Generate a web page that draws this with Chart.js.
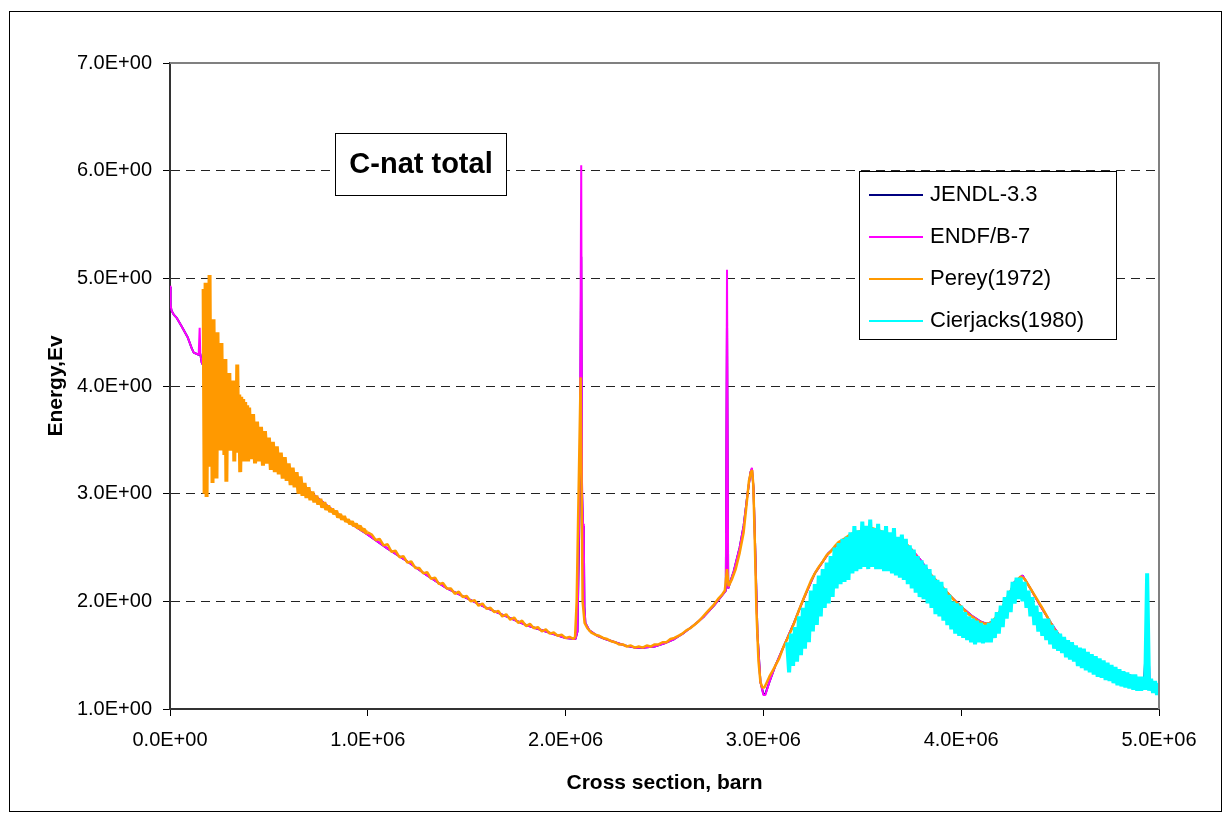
<!DOCTYPE html>
<html lang="en">
<head>
    <meta charset="UTF-8">
    <title>C-nat total</title>
    <style>
        body {
            margin: 0;
            background: #fff;
        }
        #chart {
            display: block;
        }
    </style>
</head>
<body>
    <canvas id="chart" width="1231" height="821"></canvas>

    <script src="https://cdn.jsdelivr.net/npm/chart.js"></script>
    <script>
        // energies below are in keV, converted to the axis unit when the points are built
        const xTicks = [0, 1e6, 2e6, 3e6, 4e6, 5e6];
        const yTicks = [1, 2, 3, 4, 5, 6, 7];

        const seriesNames = ['JENDL-3.3', 'ENDF/B-7', 'Perey(1972)', 'Cierjacks(1980)'];
        const seriesColors = ['#000080', '#FF00FF', '#FF9900', '#00FFFF'];

        // ENDF/B-7 evaluation
        const endfE = [0, 3, 8, 20, 35, 60, 90, 110, 120, 145, 150, 153, 160, 168,
            200, 300, 400, 500, 600, 700, 800, 900, 1000, 1100, 1200, 1300, 1400, 1500, 1600, 1700, 1800, 1900, 2000, 2050,
            2060, 2072, 2079, 2083, 2088, 2092, 2095, 2100, 2120, 2160, 2200, 2250, 2300, 2350, 2400, 2450, 2500, 2550, 2600, 2650,
            2700, 2750, 2780, 2810, 2816, 2822, 2850, 2880, 2900, 2920, 2935, 2942, 2950, 2960, 2970,
            2985, 3000, 3010, 3030, 3060, 3100, 3150, 3200, 3260, 3330, 3400, 3500, 3550, 3650, 3700,
            3750, 3800, 3850, 3900, 3950, 4000, 4050, 4100, 4130, 4170, 4200, 4240, 4270, 4310, 4350, 4400, 4450, 4500, 4600, 4700, 4800,
            4900, 4945, 4950, 4955, 5000];
        const endfSigma = [4.93, 4.75, 4.70, 4.66, 4.63, 4.55, 4.45, 4.35, 4.31, 4.29, 4.54, 4.30, 4.22, 4.19,
            4.05, 3.75, 3.55, 3.35, 3.18, 3.03, 2.88, 2.74, 2.62, 2.49, 2.37, 2.24, 2.12, 2.03, 1.94, 1.86, 1.78, 1.72, 1.66, 1.65,
            1.72, 3.20, 6.05, 3.10, 2.72, 2.62, 1.95, 1.80, 1.73, 1.68, 1.65, 1.62, 1.59, 1.57, 1.57, 1.58, 1.61, 1.65, 1.71, 1.78,
            1.86, 1.96, 2.03, 2.10, 5.08, 2.12, 2.28, 2.50, 2.70, 3.00, 3.20, 3.24, 3.05, 2.40, 1.70,
            1.25, 1.13, 1.13, 1.25, 1.40, 1.57, 1.78, 2.01, 2.26, 2.45, 2.57, 2.64, 2.66, 2.61, 2.55,
            2.48, 2.37, 2.24, 2.14, 2.04, 1.95, 1.87, 1.81, 1.79, 1.82, 1.92, 2.05, 2.18, 2.24, 2.12, 1.96, 1.81, 1.67, 1.54, 1.44, 1.35,
            1.28, 1.26, 1.40, 1.26, 1.21];

        // JENDL-3.3 evaluation
        const jendlE = [0, 3, 8, 20, 35, 60, 90, 110, 120, 145, 150, 153, 160, 168,
            200, 300, 400, 500, 600, 700, 800, 900, 1000, 1100, 1200, 1300, 1400, 1500, 1600, 1700, 1800, 1900, 2000, 2050,
            2060, 2072, 2079, 2083, 2088, 2092, 2095, 2100, 2120, 2160, 2200, 2250, 2300, 2350, 2400, 2450, 2500, 2550, 2600, 2650,
            2700, 2750, 2780, 2810, 2816, 2822, 2850, 2880, 2900, 2920, 2935, 2942, 2950, 2960, 2970,
            2985, 3000, 3010, 3030, 3060, 3100, 3150, 3200, 3260, 3330, 3400, 3500, 3550, 3650, 3700,
            3750, 3800, 3850, 3900, 3950, 4000, 4050, 4100, 4130, 4170, 4200, 4240, 4270, 4310, 4350, 4400, 4450, 4500, 4600, 4700, 4800,
            4900, 4925, 4930, 4936, 5000];
        const jendlSigma = [4.92, 4.74, 4.70, 4.66, 4.63, 4.55, 4.45, 4.35, 4.31, 4.29, 4.30, 4.30, 4.22, 4.19,
            4.05, 3.75, 3.55, 3.35, 3.18, 3.03, 2.88, 2.74, 2.62, 2.49, 2.37, 2.24, 2.12, 2.03, 1.94, 1.86, 1.78, 1.72, 1.66, 1.65,
            1.72, 3.00, 5.20, 3.00, 2.70, 2.60, 1.95, 1.80, 1.73, 1.68, 1.65, 1.62, 1.59, 1.57, 1.57, 1.58, 1.61, 1.65, 1.71, 1.78,
            1.86, 1.96, 2.03, 2.10, 4.60, 2.12, 2.28, 2.50, 2.70, 3.00, 3.20, 3.23, 3.05, 2.40, 1.70,
            1.25, 1.14, 1.14, 1.25, 1.40, 1.57, 1.78, 2.01, 2.26, 2.45, 2.57, 2.64, 2.66, 2.61, 2.55,
            2.48, 2.37, 2.24, 2.14, 2.04, 1.95, 1.87, 1.81, 1.79, 1.82, 1.92, 2.05, 2.18, 2.24, 2.12, 1.96, 1.81, 1.67, 1.54, 1.44, 1.35,
            1.28, 1.27, 1.45, 1.26, 1.21];

        // Perey (1972): fine scan 170-400 keV, 5 keV apart
        const pereyScanStart = 170, pereyScanStep = 5;
        const pereyScan = [
            4.90, 3.00, 4.96, 2.97, 4.70, 3.30, 5.03, 3.25, 4.60, 3.10,
            4.62, 3.40, 4.45, 3.14, 4.50, 3.45, 4.30, 3.40, 4.40, 3.50,
            4.20, 3.36, 4.25, 3.11, 4.10, 3.45, 4.12, 3.40, 4.00, 3.42,
            4.05, 3.30, 3.95, 3.38, 4.20, 3.40, 3.92, 3.20, 3.90, 3.36,
            3.88, 3.30, 3.85, 3.34, 3.82, 3.30, 3.80
        ];
        // Perey (1972): 410-1000 keV, 10 keV apart
        const pereyLowStart = 410, pereyLowStep = 10;
        const pereyLow = [
            3.32, 3.74, 3.28, 3.67, 3.30, 3.62, 3.26, 3.58, 3.28, 3.52,
            3.22, 3.48, 3.20, 3.44, 3.18, 3.38, 3.14, 3.34, 3.12, 3.28,
            3.08, 3.24, 3.06, 3.20, 3.00, 3.16, 2.98, 3.10, 2.96, 3.06,
            2.94, 3.02, 2.92, 2.98, 2.90, 2.95, 2.87, 2.92, 2.85, 2.89,
            2.83, 2.86, 2.81, 2.84, 2.78, 2.81, 2.76, 2.79, 2.74, 2.76,
            2.72, 2.74, 2.70, 2.72, 2.68, 2.70, 2.66, 2.67, 2.64, 2.64
        ];
        // Perey (1972): 1020-2040 keV, 20 keV apart
        const pereyMidStart = 1020, pereyMidStep = 20;
        const pereyMid = [
            2.62, 2.57, 2.58, 2.52, 2.53, 2.46, 2.47, 2.41, 2.42, 2.36,
            2.37, 2.31, 2.31, 2.26, 2.27, 2.21, 2.22, 2.16, 2.17, 2.12,
            2.12, 2.07, 2.09, 2.04, 2.05, 2.00, 2.01, 1.96, 1.98, 1.93,
            1.94, 1.90, 1.91, 1.86, 1.88, 1.83, 1.85, 1.80, 1.82, 1.77,
            1.79, 1.75, 1.76, 1.72, 1.74, 1.70, 1.71, 1.68, 1.69, 1.66,
            1.67, 1.65
        ];
        // Perey (1972): above 2 MeV
        const pereyHighE = [2048, 2056, 2076, 2086, 2096, 2110, 2130, 2150, 2170, 2190,
            2210, 2230, 2250, 2270, 2290, 2310, 2330, 2350, 2370, 2390,
            2410, 2430, 2450, 2470, 2490, 2510, 2530, 2550, 2570, 2590,
            2610, 2630, 2650, 2670, 2690, 2710, 2730, 2750, 2770, 2790,
            2805, 2816, 2824, 2840, 2860, 2880, 2900, 2915, 2927, 2937,
            2943, 2949, 2956, 2965, 2975, 2985, 2995, 3005, 3015, 3030,
            3045, 3060, 3080, 3100, 3120, 3140, 3160, 3180, 3200, 3220,
            3240, 3260, 3280, 3300, 3320, 3340, 3360, 3380, 3400, 3430,
            3460, 3490, 3520, 3550, 3580, 3610, 3640, 3670, 3700, 3730,
            3760, 3790, 3820, 3850, 3880, 3910, 3940, 3970, 4000, 4030,
            4060, 4090, 4120, 4150, 4180, 4210, 4240, 4270, 4300, 4320,
            4350, 4380, 4410, 4440, 4470, 4500, 4540, 4580, 4620, 4660,
            4700, 4740, 4780, 4820, 4860, 4900, 4940, 4960, 5000];
        const pereyHighSigma = [1.67, 2.00, 4.08, 2.00, 1.80, 1.75, 1.71, 1.69, 1.68, 1.66,
            1.65, 1.63, 1.62, 1.60, 1.60, 1.58, 1.59, 1.57, 1.58, 1.57,
            1.59, 1.58, 1.60, 1.60, 1.62, 1.62, 1.65, 1.66, 1.68, 1.70,
            1.73, 1.75, 1.78, 1.81, 1.85, 1.89, 1.93, 1.97, 2.02, 2.06,
            2.10, 2.30, 2.14, 2.20, 2.30, 2.45, 2.64, 2.90, 3.12, 3.20,
            3.22, 3.08, 2.60, 1.90, 1.45, 1.25, 1.20, 1.20, 1.24, 1.30,
            1.35, 1.40, 1.47, 1.57, 1.65, 1.73, 1.82, 1.92, 2.01, 2.10,
            2.19, 2.26, 2.32, 2.37, 2.43, 2.46, 2.51, 2.55, 2.57, 2.61,
            2.64, 2.65, 2.67, 2.68, 2.66, 2.64, 2.62, 2.58, 2.55, 2.52,
            2.45, 2.37, 2.30, 2.24, 2.18, 2.12, 2.06, 2.00, 1.95, 1.89,
            1.85, 1.81, 1.79, 1.80, 1.86, 1.95, 2.06, 2.17, 2.23, 2.21,
            2.12, 2.03, 1.94, 1.84, 1.74, 1.67, 1.61, 1.56, 1.52, 1.48,
            1.44, 1.40, 1.36, 1.33, 1.30, 1.28, 1.26, 1.25, 1.21];

        // Cierjacks (1980): 3120-5000 keV, 10 keV apart
        const cierStart = 3120, cierStep = 10;
        const cierSigma = [
            1.62, 1.34, 1.70, 1.40, 1.76, 1.44, 1.86, 1.50, 1.94, 1.56,
            2.00, 1.62, 2.10, 1.72, 2.16, 1.78, 2.24, 1.86, 2.30, 1.94,
            2.36, 1.98, 2.42, 2.04, 2.50, 2.12, 2.54, 2.16, 2.58, 2.18,
            2.60, 2.20, 2.64, 2.26, 2.70, 2.28, 2.66, 2.30, 2.74, 2.32,
            2.70, 2.30, 2.76, 2.32, 2.68, 2.30, 2.72, 2.30, 2.66, 2.28,
            2.70, 2.28, 2.64, 2.26, 2.68, 2.24, 2.60, 2.22, 2.62, 2.20,
            2.58, 2.16, 2.52, 2.12, 2.48, 2.08, 2.42, 2.04, 2.38, 2.02,
            2.34, 1.98, 2.30, 1.94, 2.24, 1.88, 2.20, 1.86, 2.18, 1.82,
            2.12, 1.78, 2.06, 1.74, 2.00, 1.70, 1.98, 1.68, 1.96, 1.66,
            1.90, 1.64, 1.86, 1.62, 1.84, 1.60, 1.82, 1.62, 1.80, 1.61,
            1.78, 1.62, 1.80, 1.62, 1.84, 1.66, 1.90, 1.70, 1.96, 1.76,
            2.04, 1.84, 2.10, 1.90, 2.18, 1.98, 2.22, 2.02, 2.22, 2.00,
            2.18, 1.94, 2.10, 1.86, 2.04, 1.78, 1.96, 1.72, 1.90, 1.68,
            1.84, 1.64, 1.84, 1.60, 1.78, 1.56, 1.73, 1.54, 1.70, 1.52,
            1.67, 1.48, 1.64, 1.46, 1.62, 1.44, 1.59, 1.40, 1.57, 1.38,
            1.56, 1.36, 1.53, 1.34, 1.51, 1.32, 1.49, 1.30, 1.47, 1.29,
            1.45, 1.27, 1.43, 1.26, 1.41, 1.24, 1.39, 1.22, 1.37, 1.21,
            1.35, 1.20, 1.34, 1.19, 1.32, 1.18, 1.32, 1.17, 1.30, 1.17,
            1.30, 1.18, 2.26, 1.17, 1.28, 1.15, 1.26, 1.13, 1.24
        ];

        function toPoints(energies, sigmas) {
            return energies.map((e, i) => ({ x: e * 1000, y: sigmas[i] }));
        }

        function gridPoints(start, step, sigmas) {
            return sigmas.map((s, i) => ({ x: (start + i * step) * 1000, y: s }));
        }

        const pereyPoints = gridPoints(pereyScanStart, pereyScanStep, pereyScan)
            .concat(gridPoints(pereyLowStart, pereyLowStep, pereyLow))
            .concat(gridPoints(pereyMidStart, pereyMidStep, pereyMid))
            .concat(toPoints(pereyHighE, pereyHighSigma));

        const seriesData = [
            toPoints(jendlE, jendlSigma),
            toPoints(endfE, endfSigma),
            pereyPoints,
            gridPoints(cierStart, cierStep, cierSigma)
        ];

        // the measured sets are stroked heavier than the evaluations
        const seriesWidths = [2, 2, 2.5, 4];

        // 0 -> "0.0E+00", 3000000 -> "3.0E+06"
        function sci(v) {
            if (v === 0) return '0.0E+00';
            const e = Math.floor(Math.log10(Math.abs(v)) + 1e-9);
            const m = v / Math.pow(10, e);
            return m.toFixed(1) + 'E' + (e < 0 ? '-' : '+') + String(Math.abs(e)).padStart(2, '0');
        }

        const FONT = "'Liberation Sans', Arial, sans-serif";

        const frame = {
            id: 'frame',
            beforeDraw(chart) {
                const ctx = chart.ctx;
                ctx.save();
                ctx.fillStyle = '#fff';
                ctx.fillRect(0, 0, chart.width, chart.height);
                ctx.strokeStyle = '#000';
                ctx.lineWidth = 1;
                ctx.strokeRect(9.5, 11.5, 1212, 800);
                ctx.restore();
            },
            afterDatasetsDraw(chart) {
                const { ctx, chartArea: a } = chart;
                ctx.save();
                ctx.strokeStyle = '#808080';
                ctx.lineWidth = 2;
                ctx.beginPath();
                ctx.moveTo(a.left, a.top);
                ctx.lineTo(a.right, a.top);
                ctx.lineTo(a.right, a.bottom);
                ctx.stroke();
                ctx.restore();
            },
            afterDraw(chart) {
                const ctx = chart.ctx;
                ctx.save();

                // title box
                ctx.fillStyle = '#fff';
                ctx.fillRect(335, 133, 171, 62);
                ctx.strokeStyle = '#000';
                ctx.lineWidth = 1;
                ctx.strokeRect(335.5, 133.5, 171, 62);
                ctx.fillStyle = '#000';
                ctx.font = 'bold 29px ' + FONT;
                ctx.textAlign = 'center';
                ctx.textBaseline = 'middle';
                ctx.fillText('C-nat total', 421, 165);

                // legend
                ctx.fillStyle = '#fff';
                ctx.fillRect(859, 171, 257, 168);
                ctx.strokeRect(859.5, 171.5, 257, 168);
                ctx.font = '22px ' + FONT;
                ctx.textAlign = 'left';
                chart.data.datasets.forEach((ds, i) => {
                    const y = 195 + i * 42;
                    ctx.strokeStyle = ds.borderColor;
                    ctx.lineWidth = 2;
                    ctx.beginPath();
                    ctx.moveTo(869, y);
                    ctx.lineTo(923, y);
                    ctx.stroke();
                    ctx.fillStyle = '#000';
                    ctx.fillText(ds.label, 930, y);
                });
                ctx.restore();
            }
        };

        new Chart(document.getElementById('chart'), {
            type: 'line',
            data: {
                datasets: seriesNames.map((name, i) => ({
                    label: name,
                    data: seriesData[i],
                    borderColor: seriesColors[i],
                    backgroundColor: seriesColors[i],
                    borderWidth: seriesWidths[i],
                    borderJoinStyle: 'bevel',
                    pointRadius: 0,
                    tension: 0,
                    fill: false,
                    order: seriesNames.length - i,
                    // Perey's scatter below 1 MeV gets a heavier stroke so it reads as a band
                    segment: i === 2 ? { borderWidth: c => (c.p0.parsed.x < 1e6 ? 4 : 2.5) } : undefined
                }))
            },
            options: {
                responsive: false,
                animation: false,
                devicePixelRatio: 1,
                layout: { padding: { left: 0, right: 72, top: 63, bottom: 0 } },
                plugins: {
                    legend: { display: false },
                    tooltip: { enabled: false }
                },
                scales: {
                    x: {
                        type: 'linear',
                        min: 0,
                        max: 5e6,
                        afterFit(scale) { scale.height = 112; },
                        afterBuildTicks(scale) { scale.ticks = xTicks.map(v => ({ value: v })); },
                        ticks: {
                            callback: v => sci(v),
                            color: '#000',
                            padding: 12,
                            maxRotation: 0,
                            font: { family: FONT, size: 20 }
                        },
                        grid: {
                            drawOnChartArea: false,
                            tickLength: 7,
                            tickColor: '#000',
                            tickWidth: 1
                        },
                        border: { color: '#333', width: 2 },
                        title: {
                            display: true,
                            text: 'Cross section, barn',
                            color: '#000',
                            padding: { top: 0, bottom: 25 },
                            font: { family: FONT, size: 21, weight: 'bold' }
                        }
                    },
                    y: {
                        min: 1,
                        max: 7,
                        afterFit(scale) { scale.width = 170; },
                        afterBuildTicks(scale) { scale.ticks = yTicks.map(v => ({ value: v })); },
                        ticks: {
                            callback: v => sci(v),
                            color: '#000',
                            padding: 11,
                            font: { family: FONT, size: 20 }
                        },
                        grid: {
                            color: c => (c.tick && (c.tick.value === 1 || c.tick.value === 7)) ? 'rgba(0,0,0,0)' : '#222',
                            lineWidth: 1,
                            tickLength: 7,
                            tickColor: '#000',
                            tickWidth: 1
                        },
                        border: { color: '#333', width: 2, dash: [9, 6] },
                        title: {
                            display: true,
                            text: 'Energy,Ev',
                            color: '#000',
                            padding: { top: 44, bottom: 0 },
                            font: { family: FONT, size: 21, weight: 'bold' }
                        }
                    }
                }
            },
            plugins: [frame]
        });
    </script>
</body>
</html>
